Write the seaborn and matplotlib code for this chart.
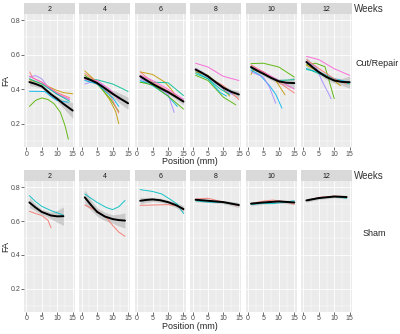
import numpy as np
import pandas as pd
import matplotlib
matplotlib.use('Agg')
import matplotlib.pyplot as plt
import seaborn as sns

sns.set_style('darkgrid', {'axes.facecolor': '#EBEBEB', 'grid.color': 'white'})
plt.rcParams['font.family'] = ['Liberation Sans', 'DejaVu Sans']

weeks = [2, 4, 6, 8, 10, 12]

# ggplot hue colours for the subjects
cut_colors = {'a': '#F8766D', 'b': '#C49A00', 'c': '#53B400', 'd': '#00C094',
              'e': '#00B6EB', 'f': '#A58AFF', 'g': '#FB61D7'}
sham_colors = {'a': '#F8766D', 'b': '#00BFC4'}

# individual subject curves, (subject, positions, FA)
cut_w2 = [
    ('c', [1, 3, 5, 7, 9, 11, 12.5, 13.6], [0.30, 0.335, 0.349, 0.34, 0.315, 0.266, 0.19, 0.11]),
    ('b', [1, 5, 10, 12, 15], [0.455, 0.431, 0.392, 0.38, 0.373]),
    ('f', [1, 3, 5, 7, 10, 14], [0.47, 0.478, 0.46, 0.41, 0.37, 0.34]),
    ('e', [1, 6, 8.3, 10, 13.6], [0.388, 0.386, 0.353, 0.334, 0.324]),
    ('a', [1.1, 2, 5, 10, 14], [0.50, 0.466, 0.44, 0.38, 0.35]),
    ('g', [1, 5, 10, 14], [0.475, 0.44, 0.375, 0.34]),
    ('d', [1, 5, 10, 14], [0.46, 0.43, 0.37, 0.33]),
]
cut_w4 = [
    ('d', [1, 5, 10, 15], [0.46, 0.454, 0.43, 0.387]),
    ('b', [1, 5, 9, 11, 12], [0.505, 0.44, 0.34, 0.27, 0.20]),
    ('c', [1, 5, 9, 12], [0.48, 0.43, 0.35, 0.27]),
    ('a', [1, 5, 9, 12], [0.49, 0.44, 0.37, 0.262]),
    ('g', [1, 5, 9, 12], [0.455, 0.45, 0.40, 0.34]),
    ('f', [1, 4, 7], [0.43, 0.445, 0.42]),
    ('e', [1, 5, 10, 12], [0.45, 0.43, 0.35, 0.30]),
]
cut_w6 = [
    ('b', [1, 5, 9, 11, 13], [0.50, 0.485, 0.44, 0.40, 0.35]),
    ('d', [1, 5, 10, 15], [0.44, 0.44, 0.437, 0.363]),
    ('f', [1, 5, 10, 12], [0.46, 0.43, 0.37, 0.265]),
    ('e', [1, 5, 10, 13], [0.45, 0.42, 0.36, 0.30]),
    ('c', [1, 5, 10, 15], [0.44, 0.425, 0.36, 0.285]),
    ('a', [1, 5, 10, 15], [0.50, 0.44, 0.39, 0.33]),
    ('g', [1, 5, 10, 15], [0.48, 0.45, 0.40, 0.34]),
]
cut_w8 = [
    ('g', [1, 5, 10, 15], [0.55, 0.528, 0.474, 0.45]),
    ('c', [1, 5, 10, 14], [0.48, 0.45, 0.353, 0.309]),
    ('a', [1, 5, 10, 15], [0.52, 0.47, 0.42, 0.34]),
    ('e', [1, 5, 9, 11], [0.50, 0.46, 0.38, 0.36]),
    ('b', [1, 5, 9, 12], [0.50, 0.48, 0.42, 0.36]),
    ('d', [1, 5, 9, 12], [0.49, 0.46, 0.40, 0.37]),
    ('f', [1, 5, 10, 13], [0.52, 0.47, 0.40, 0.37]),
]
cut_w10 = [
    ('c', [1, 5, 10, 15], [0.548, 0.55, 0.528, 0.47]),
    ('d', [1, 5, 10, 15], [0.52, 0.49, 0.45, 0.455]),
    ('a', [1, 5, 10, 15], [0.54, 0.50, 0.44, 0.378]),
    ('b', [1, 2, 5, 9, 12], [0.485, 0.52, 0.50, 0.45, 0.367]),
    ('e', [1, 4, 7, 9, 11], [0.51, 0.48, 0.42, 0.37, 0.29]),
    ('f', [1, 5, 7, 9], [0.50, 0.47, 0.41, 0.318]),
    ('g', [1, 5, 10, 15], [0.53, 0.50, 0.45, 0.40]),
]
cut_w12 = [
    ('g', [1, 5, 10, 15], [0.59, 0.571, 0.518, 0.48]),
    ('c', [1, 4, 7, 8, 10], [0.54, 0.55, 0.53, 0.47, 0.345]),
    ('f', [1, 4, 6, 8, 9], [0.56, 0.53, 0.45, 0.38, 0.344]),
    ('e', [1, 5, 10, 15], [0.514, 0.50, 0.46, 0.44]),
    ('d', [1, 5, 10, 15], [0.52, 0.49, 0.45, 0.43]),
    ('b', [1, 5, 10, 12], [0.54, 0.50, 0.45, 0.42]),
    ('a', [1, 5, 10, 14], [0.57, 0.52, 0.46, 0.43]),
]

sham_w2 = [
    ('b', [1, 3, 5, 8, 12], [0.75, 0.715, 0.687, 0.662, 0.635]),
    ('a', [1, 3, 5, 7, 8], [0.658, 0.645, 0.633, 0.605, 0.56]),
]
sham_w4 = [
    ('b', [1, 5, 8, 10, 12, 14], [0.76, 0.71, 0.68, 0.668, 0.685, 0.722]),
    ('a', [1, 5, 8, 10, 12, 14], [0.695, 0.66, 0.62, 0.575, 0.535, 0.51]),
]
sham_w6 = [
    ('b', [1, 5, 8, 11, 13, 15], [0.786, 0.775, 0.76, 0.725, 0.70, 0.645]),
    ('a', [1, 5, 10, 13, 15], [0.693, 0.695, 0.697, 0.69, 0.665]),
]
sham_w8 = [
    ('a', [1, 5, 10, 15], [0.73, 0.735, 0.712, 0.69]),
    ('b', [1, 5, 10, 15], [0.72, 0.712, 0.71, 0.695]),
]
sham_w10 = [
    ('a', [1, 5, 8, 12, 15], [0.703, 0.718, 0.724, 0.715, 0.70]),
    ('b', [1, 5, 8, 12, 15], [0.698, 0.705, 0.703, 0.712, 0.72]),
]
sham_w12 = [
    ('a', [1, 5, 10, 14], [0.722, 0.74, 0.748, 0.745]),
    ('b', [1, 5, 10, 14], [0.722, 0.735, 0.745, 0.735]),
]

# smoothed group trend (position, FA, half width of band)
cut_fit = [
    ([1, 3, 5, 8, 10, 12, 15], [0.441, 0.43, 0.416, 0.37, 0.344, 0.315, 0.276],
     [0.02, 0.015, 0.012, 0.012, 0.015, 0.025, 0.045]),
    ([1, 3, 5, 7.5, 10, 12.5, 15], [0.466, 0.452, 0.435, 0.405, 0.373, 0.345, 0.318],
     [0.015, 0.012, 0.012, 0.015, 0.02, 0.03, 0.035]),
    ([1, 3, 5, 7.5, 10, 12.5, 15], [0.474, 0.452, 0.43, 0.406, 0.383, 0.356, 0.328],
     [0.015, 0.012, 0.01, 0.01, 0.012, 0.015, 0.02]),
    ([1, 3, 5, 7.5, 10, 12.5, 15], [0.513, 0.495, 0.474, 0.44, 0.408, 0.385, 0.369],
     [0.015, 0.012, 0.01, 0.01, 0.012, 0.015, 0.02]),
    ([1, 3, 5, 7.5, 10, 12.5, 15], [0.528, 0.507, 0.489, 0.465, 0.445, 0.437, 0.435],
     [0.02, 0.015, 0.012, 0.012, 0.015, 0.02, 0.035]),
    ([1, 3, 5, 7.5, 10, 12.5, 15], [0.557, 0.527, 0.499, 0.47, 0.45, 0.442, 0.44],
     [0.03, 0.02, 0.015, 0.015, 0.015, 0.02, 0.035]),
]
sham_fit = [
    ([1, 3, 5, 8, 10, 12], [0.71, 0.68, 0.654, 0.633, 0.628, 0.629],
     [0.03, 0.02, 0.015, 0.02, 0.035, 0.055]),
    ([1, 3, 5, 7.5, 10, 12, 14], [0.74, 0.695, 0.654, 0.627, 0.612, 0.606, 0.603],
     [0.045, 0.03, 0.025, 0.025, 0.025, 0.035, 0.045]),
    ([1, 3, 5, 7.5, 10, 12.5, 15], [0.72, 0.725, 0.728, 0.723, 0.712, 0.695, 0.671],
     [0.02, 0.015, 0.012, 0.012, 0.012, 0.015, 0.02]),
    ([1, 5, 10, 15], [0.726, 0.72, 0.712, 0.695], [0.012, 0.01, 0.01, 0.015]),
    ([1, 5, 10, 15], [0.703, 0.71, 0.716, 0.71], [0.012, 0.01, 0.01, 0.012]),
    ([1, 5, 10, 14], [0.722, 0.736, 0.745, 0.742], [0.01, 0.008, 0.008, 0.01]),
]

W, H = 400, 334
fig = plt.figure(figsize=(W / 100, H / 100), dpi=100)


def box(l, t, w, h):
    return [l / W, 1 - (t + h) / H, w / W, h / H]


def draw_row(panels, fits, colors, top, ph, label, label_xy):
    for i, (wk, curves, fit) in enumerate(zip(weeks, panels, fits)):
        left = 24 + i * 55.4
        ax = fig.add_axes(box(left, top, 51, ph))
        rows = []
        for j, (s, xs, ys) in enumerate(curves):
            for x, y in zip(xs, ys):
                rows.append({'pos': x, 'fa': y, 'subj': s, 'line': j})
        df = pd.DataFrame(rows)
        sns.lineplot(data=df, x='pos', y='fa', hue='subj', units='line',
                     estimator=None, sort=False, palette=colors, lw=0.7,
                     alpha=0.9, legend=False, ax=ax)
        fx, fy, fw = fit
        fy = np.array(fy)
        fw = np.array(fw)
        ax.fill_between(fx, fy - fw, fy + fw, color='#999999', alpha=0.4, lw=0)
        sns.lineplot(x=fx, y=fy, color='black', lw=1.4, ax=ax)
        ax.set_xlim(-0.75, 15.75)
        ax.set_ylim(0.065, 0.835)
        ax.set_xticks([0, 5, 10, 15])
        ax.set_xticks([2.5, 7.5, 12.5], minor=True)
        ax.set_yticks([0.2, 0.4, 0.6, 0.8])
        ax.set_yticks([0.1, 0.3, 0.5, 0.7], minor=True)
        ax.grid(which='major', color='white', lw=0.6)
        ax.grid(which='minor', color='white', lw=0.3)
        ax.tick_params(which='major', length=2, width=0.5, color='#333333',
                       labelsize=5, labelcolor='#4D4D4D', pad=0.6)
        ax.tick_params(which='minor', length=0)
        ax.tick_params(axis='x', bottom=True)
        if i == 0:
            ax.tick_params(axis='y', left=True)
        else:
            ax.set_yticklabels([])
            ax.tick_params(axis='y', left=False)
        ax.set_ylabel('')
        ax.set_xlabel('')
        for sp in ax.spines.values():
            sp.set_visible(False)
        st = fig.add_axes(box(left, top - 11, 51, 11))
        st.set_facecolor('#D9D9D9')
        st.set_xticks([])
        st.set_yticks([])
        st.grid(False)
        for sp in st.spines.values():
            sp.set_visible(False)
        st.text(0.5, 0.45, str(wk), ha='center', va='center', fontsize=5,
                color='#1A1A1A', transform=st.transAxes)
    fig.text(190 / W, 1 - (top + ph + 14.5) / H, 'Position (mm)', ha='center',
             va='center', fontsize=6.5)
    fig.text(6 / W, 1 - (top + ph / 2) / H, 'FA', ha='center', va='center',
             rotation=90, fontsize=6.5)
    fig.text(354 / W, 1 - (top - 5.5) / H, 'Weeks', ha='left', va='center',
             fontsize=7, color='#333333')
    fig.text(label_xy[0] / W, 1 - label_xy[1] / H, label, ha='left',
             va='center', fontsize=6.5)


draw_row([cut_w2, cut_w4, cut_w6, cut_w8, cut_w10, cut_w12], cut_fit,
         cut_colors, 14, 133, 'Cut/Repair', (356, 63))
draw_row([sham_w2, sham_w4, sham_w6, sham_w8, sham_w10, sham_w12], sham_fit,
         sham_colors, 181.3, 130.4, 'Sham', (363, 234))

fig.savefig('out.png', dpi=100)
